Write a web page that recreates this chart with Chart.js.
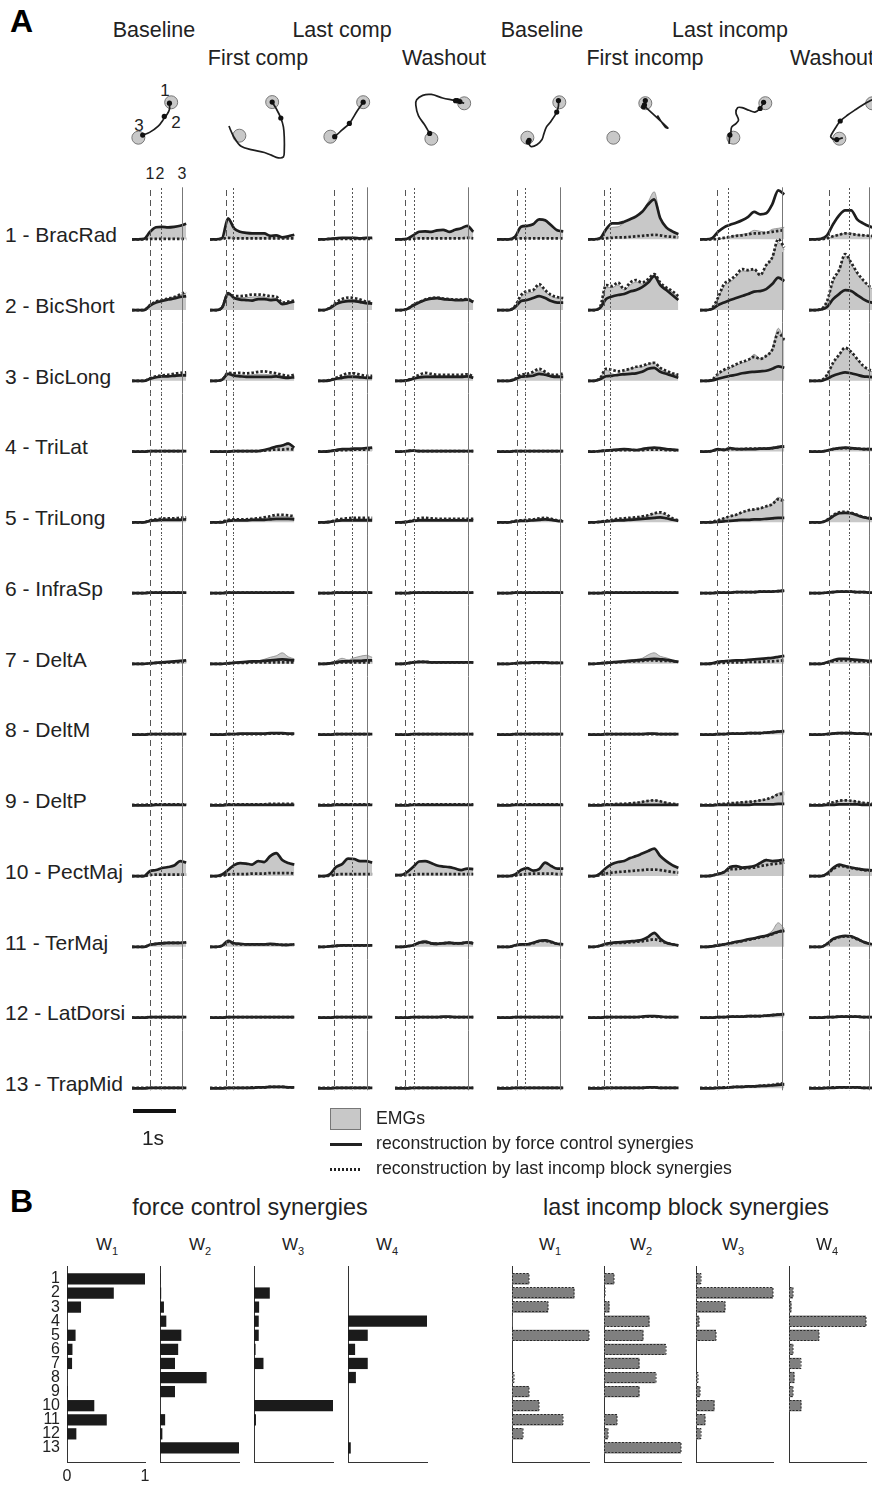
<!DOCTYPE html>
<html>
<head>
<meta charset="utf-8">
<script src="https://cdn.jsdelivr.net/npm/chart.js@4.4.1/dist/chart.umd.min.js"></script>
<style>
  html, body { margin: 0; padding: 0; background: #fff; }
  body { width: 872px; height: 1485px; overflow: hidden; position: relative;
         font-family: "Liberation Sans", Arial, Helvetica, sans-serif; color: #222; }
  canvas { position: absolute; }
  .t { position: absolute; white-space: nowrap; line-height: 1; }
  .box { position: absolute; }
</style>
</head>
<body>
<script>
// ---------------------------------------------------------------------------
// Data
// ---------------------------------------------------------------------------
const conditionNames = ['Baseline', 'First comp', 'Last comp', 'Washout',
                        'Baseline', 'First incomp', 'Last incomp', 'Washout'];
const muscleNames = ['1 - BracRad', '2 - BicShort', '3 - BicLong', '4 - TriLat', '5 - TriLong',
                     '6 - InfraSp', '7 - DeltA', '8 - DeltM', '9 - DeltP', '10 - PectMaj',
                     '11 - TerMaj', '12 - LatDorsi', '13 - TrapMid'];
const muscleIds = [1, 2, 3, 4, 5, 6, 7, 8, 9, 10, 11, 12, 13];

// event times (s): movement onset, mid-reach, target reached (null = not reached)
const eventTimes = [[0.42, 0.67, 1.16], [0.37, 0.53, null], [0.37, 0.79, 1.14], [0.23, 0.44, 1.70],
                    [0.47, 0.65, 1.47], [0.37, 0.51, null], [0.40, 0.65, 1.91], [0.47, 0.93, 1.40]];

// sample times (s) of each condition
const timeBaseline1   = [0, .14, .28, .42, .56, .70, .84, .98, 1.12, 1.26];
const timeFirstComp   = [0, .14, .28, .42, .56, .70, .84, .98, 1.12, 1.26, 1.40, 1.54, 1.68, 1.82, 1.96];
const timeLastComp    = [0, .14, .28, .42, .56, .70, .84, .98, 1.12, 1.26];
const timeWashout1    = [0, .14, .28, .42, .56, .70, .84, .98, 1.12, 1.26, 1.40, 1.54, 1.68, 1.82];
const timeBaseline2   = [0, .14, .28, .42, .56, .70, .84, .98, 1.12, 1.26, 1.40, 1.54];
const timeFirstIncomp = [0, .14, .28, .42, .56, .70, .84, .98, 1.12, 1.26, 1.40, 1.54, 1.68, 1.82, 1.96, 2.10];
const timeLastIncomp  = [0, .14, .28, .42, .56, .70, .84, .98, 1.12, 1.26, 1.40, 1.54, 1.68, 1.82, 1.96];
const timeWashout2    = [0, .14, .28, .42, .56, .70, .84, .98, 1.12, 1.26, 1.40, 1.54];

// EMG amplitudes (% of max), one row per muscle
const emgBaseline1 = [
  [0,0,1,14,23,24,23,24,26,30], [0,0,0,10,16,20,23,26,30,34], [0,0,0,5,8,10,10,12,13,14],
  [0,0,0,1,1,1,1,1,1,1], [0,0,0,3,5,6,6,7,7,8], [0,0,0,1,1,1,1,1,1,1], [0,0,0,1,2,3,4,5,6,7],
  [0,0,0,1,1,1,1,1,1,1], [1,1,1,1,1,1,1,1,1,1], [0,0,0,10,12,16,18,21,30,27],
  [0,0,0,4,6,7,8,8,8,9], [0,0,0,1,1,1,1,1,1,1], [0,0,0,1,1,1,1,1,1,1]];
const forceBaseline1 = [
  [0,0,1,15,24,25,24,25,27,31], [0,0,0,9,15,18,21,23,26,28], [0,0,0,4,7,9,9,10,11,11],
  [0,0,0,1,1,1,1,1,1,1], [0,0,0,3,4,5,5,5,5,6], [0,0,0,1,1,1,1,1,1,1], [0,0,0,1,2,3,4,5,6,7],
  [0,0,0,1,1,1,1,1,1,1], [0,0,0,0,1,1,1,1,1,1], [0,0,0,10,12,16,18,21,30,27],
  [0,0,0,4,6,7,8,8,8,9], [0,0,0,1,1,1,1,1,1,1], [0,0,0,1,1,1,1,1,1,1]];
const incompBaseline1 = [
  [0,0,0,1,1,1,1,1,1,1], [0,0,0,10,17,20,23,26,31,36], [0,0,0,5,9,11,12,14,16,17],
  [0,0,0,1,1,1,1,1,1,1], [0,0,0,4,6,7,8,8,9,10], [0,0,0,1,1,1,1,1,1,1], [0,0,0,1,2,2,3,3,4,4],
  [0,0,0,1,1,1,1,1,1,1], [1,1,1,2,2,2,2,2,2,2], [0,0,0,2,3,3,3,3,3,3],
  [0,0,0,4,6,7,8,8,8,9], [0,0,0,1,1,1,1,1,1,1], [1,1,1,1,1,1,1,1,1,1]];

const emgFirstComp = [
  [0,0,2,40,20,14,12,11,11,11,8,7,5,6,8], [0,0,5,33,26,25,25,26,27,26,24,24,13,15,18],
  [0,0,2,15,12,12,11,12,13,13,12,12,9,8,10], [0,0,0,0,1,1,1,1,1,3,6,10,13,18,7],
  [0,0,1,4,5,5,5,6,7,8,10,12,12,11,10], [0,0,0,1,1,1,1,1,1,1,1,1,1,1,1],
  [0,0,0,1,2,3,4,5,6,9,13,16,22,14,10], [0,0,0,1,1,2,2,2,2,2,3,3,3,2,2],
  [1,1,1,2,2,2,2,2,2,2,2,2,2,2,2], [0,0,3,11,21,25,24,22,29,27,38,44,31,25,22],
  [0,0,2,12,7,6,5,5,5,5,6,5,4,4,5], [0,0,0,1,1,1,1,1,1,1,1,1,1,1,1],
  [0,0,0,1,1,1,1,1,2,2,3,3,3,2,2]];
const forceFirstComp = [
  [0,0,2,42,22,15,13,12,12,12,7,8,4,6,9], [0,0,5,34,24,21,20,19,22,22,20,21,12,14,17],
  [0,0,2,14,10,9,8,8,8,8,8,9,7,6,7], [0,0,0,0,1,1,1,1,1,3,6,10,12,16,8],
  [0,0,0,3,4,4,4,5,5,5,6,7,7,7,6], [0,0,0,1,1,1,1,1,1,1,1,1,1,1,1],
  [0,0,0,1,2,3,4,5,5,6,7,8,9,8,7], [0,0,0,1,1,2,2,2,2,2,3,3,3,2,2],
  [0,0,0,1,1,1,1,1,1,1,1,1,1,1,1], [0,0,3,12,22,26,25,23,30,28,40,46,32,26,23],
  [0,0,2,12,7,6,5,5,5,5,6,5,4,4,5], [0,0,0,1,1,1,1,1,1,1,1,1,1,1,1],
  [0,0,0,1,1,1,1,1,2,2,3,3,3,2,2]];
const incompFirstComp = [
  [0,0,1,3,2,2,2,2,2,2,2,2,2,2,2], [0,0,5,32,28,28,29,31,31,30,28,27,15,17,19],
  [0,0,2,16,15,16,15,16,18,19,17,15,12,10,12], [0,0,0,0,1,1,1,1,1,2,3,4,4,5,4],
  [0,0,1,5,6,6,6,7,8,10,12,15,15,14,12], [0,0,0,1,1,1,1,1,1,1,1,1,1,1,1],
  [0,0,0,1,2,2,2,3,3,3,3,3,3,3,3], [0,0,0,1,1,1,1,1,1,1,2,2,2,1,1],
  [1,1,1,2,2,2,2,2,2,2,3,3,3,3,3], [0,0,1,3,4,4,4,5,5,5,6,6,6,6,5],
  [0,0,2,10,6,5,5,5,5,5,5,5,4,4,5], [0,0,0,1,1,1,1,1,1,1,1,1,1,1,1],
  [1,1,1,1,1,1,1,2,2,2,3,3,3,2,2]];

const emgLastComp = [
  [0,0,1,2,2,3,2,2,2,3], [0,0,4,13,19,21,21,19,16,15], [0,0,1,5,8,11,11,9,8,8],
  [0,0,1,3,5,5,6,6,7,8], [0,0,1,4,6,6,7,7,7,7], [0,0,0,1,1,1,1,1,1,1], [0,0,1,6,11,8,12,15,17,13],
  [0,0,0,1,1,1,1,1,1,1], [1,1,1,1,1,1,1,1,1,1], [0,0,4,17,23,34,33,29,29,26],
  [0,0,1,2,3,3,3,3,3,3], [0,0,0,1,1,1,1,1,1,1], [0,0,0,1,1,1,1,1,1,1]];
const forceLastComp = [
  [0,0,1,2,3,3,3,2,3,3], [0,0,4,12,16,18,18,16,14,13], [0,0,1,4,6,8,8,7,6,6],
  [0,0,1,3,5,5,6,6,7,8], [0,0,1,3,4,4,4,4,4,4], [0,0,0,1,1,1,1,1,1,1], [0,0,1,3,5,5,6,6,7,7],
  [0,0,0,1,1,1,1,1,1,1], [0,0,0,1,1,1,1,1,1,1], [0,0,4,18,24,35,34,30,30,27],
  [0,0,1,2,3,3,3,3,3,3], [0,0,0,1,1,1,1,1,1,1], [0,0,0,1,1,1,1,1,1,1]];
const incompLastComp = [
  [0,0,1,1,1,1,1,1,1,1], [0,0,5,15,22,25,24,21,17,16], [0,0,2,6,11,15,15,12,10,10],
  [0,0,1,2,3,3,4,4,4,5], [0,0,1,5,7,8,9,9,9,9], [0,0,0,1,1,1,1,1,1,1], [0,0,1,2,3,3,3,3,3,3],
  [0,0,0,1,1,1,1,1,1,1], [1,1,1,2,2,2,2,2,2,2], [0,0,1,3,4,4,4,4,4,4],
  [0,0,1,2,3,3,3,3,3,3], [0,0,0,1,1,1,1,1,1,1], [1,1,1,1,1,1,1,1,1,1]];

const emgWashout1 = [
  [0,0,1,7,14,15,14,17,18,14,18,21,26,14], [0,0,2,9,15,20,23,24,22,21,20,20,21,16],
  [0,0,1,5,9,12,11,10,10,10,10,10,11,8], [0,0,1,2,1,1,1,1,1,1,1,1,1,1],
  [0,0,1,4,6,7,6,6,6,6,6,6,6,6], [0,0,0,1,1,1,1,1,1,1,1,1,1,1],
  [0,0,1,3,4,4,3,3,3,3,3,3,3,3], [0,0,0,1,1,1,1,1,1,1,1,1,1,1],
  [1,1,1,1,1,1,1,1,1,1,1,1,1,1], [2,2,8,18,29,30,26,21,19,18,15,12,15,14],
  [0,0,1,3,10,13,9,8,9,10,9,9,11,8], [0,0,0,1,1,1,1,1,2,2,1,1,1,1],
  [0,0,0,1,1,1,1,1,1,1,1,1,1,1]];
const forceWashout1 = [
  [0,0,1,8,15,16,15,18,19,15,19,22,27,15], [0,0,2,9,15,20,23,24,22,21,20,20,21,16],
  [0,0,1,4,7,8,8,8,8,8,8,8,9,6], [0,0,1,2,1,1,1,1,1,1,1,1,1,1],
  [0,0,1,3,4,4,4,4,4,4,4,4,4,4], [0,0,0,1,1,1,1,1,1,1,1,1,1,1],
  [0,0,1,3,4,4,3,3,3,3,3,3,3,3], [0,0,0,1,1,1,1,1,1,1,1,1,1,1],
  [0,0,0,1,1,1,1,1,1,1,1,1,1,1], [2,2,8,18,29,30,26,21,19,18,15,12,15,14],
  [0,0,1,3,8,10,7,6,7,8,7,7,9,7], [0,0,0,1,1,1,1,1,2,2,1,1,1,1],
  [0,0,0,1,1,1,1,1,1,1,1,1,1,1]];
const incompWashout1 = [
  [0,0,0,1,2,2,2,2,2,2,2,2,3,2], [0,0,2,10,16,21,24,25,23,22,21,21,22,17],
  [0,0,1,6,12,16,14,12,12,12,12,12,13,9], [0,0,1,2,1,1,1,1,1,1,1,1,1,1],
  [0,0,1,4,8,9,8,7,7,7,7,7,7,7], [0,0,0,1,1,1,1,1,1,1,1,1,1,1],
  [0,0,1,3,4,4,3,3,3,3,3,3,3,3], [0,0,0,1,1,1,1,1,1,1,1,1,1,1],
  [1,1,1,2,2,2,2,2,2,2,2,2,2,2], [2,2,2,3,4,4,4,4,4,4,4,4,4,4],
  [0,0,1,3,8,10,7,6,7,8,7,7,9,7], [0,0,0,1,1,1,1,1,1,1,1,1,1,1],
  [1,1,1,1,1,1,1,1,1,1,1,1,1,1]];

const emgBaseline2 = [
  [0,0,0,4,24,24,30,38,36,26,17,15], [0,0,0,7,26,34,36,48,36,28,24,24],
  [0,0,0,4,11,12,15,20,16,11,10,12], [0,0,0,1,1,1,1,1,1,1,1,1],
  [0,0,0,3,4,4,5,7,8,6,4,3], [0,0,0,1,1,1,1,1,1,1,1,1], [0,0,0,1,2,2,3,3,3,2,2,2],
  [0,0,0,1,1,1,1,1,1,1,1,1], [1,1,1,1,1,1,1,1,1,1,1,1], [0,0,0,3,12,16,11,14,27,20,15,15],
  [0,0,0,3,5,5,8,12,13,10,6,5], [0,0,0,1,1,1,1,1,1,1,1,1], [0,0,0,1,1,1,1,1,1,1,1,1]];
const forceBaseline2 = [
  [0,0,0,5,25,27,30,40,38,28,18,16], [0,0,0,6,18,20,24,28,24,18,15,15],
  [0,0,0,3,8,9,10,14,12,9,8,8], [0,0,0,1,1,1,1,1,1,1,1,1],
  [0,0,0,2,3,3,4,5,6,5,3,2], [0,0,0,1,1,1,1,1,1,1,1,1], [0,0,0,1,2,2,3,3,3,2,2,2],
  [0,0,0,1,1,1,1,1,1,1,1,1], [0,0,0,1,1,1,1,1,1,1,1,1], [0,0,0,3,12,16,11,14,27,20,15,15],
  [0,0,0,3,5,5,8,12,13,10,6,5], [0,0,0,1,1,1,1,1,1,1,1,1], [0,0,0,1,1,1,1,1,1,1,1,1]];
const incompBaseline2 = [
  [0,0,0,1,2,2,2,2,2,2,2,2], [0,0,0,8,30,38,40,52,40,30,26,24],
  [0,0,0,4,12,14,18,24,18,12,12,15], [0,0,0,1,1,1,1,1,1,1,1,1],
  [0,0,0,3,4,5,6,8,9,7,4,3], [0,0,0,1,1,1,1,1,1,1,1,1], [0,0,0,1,2,2,2,2,2,2,2,2],
  [0,0,0,1,1,1,1,1,1,1,1,1], [1,1,1,2,2,2,2,2,2,2,2,2], [0,0,0,1,3,4,5,5,5,5,4,4],
  [0,0,0,3,5,5,7,11,12,9,6,5], [0,0,0,1,1,1,1,1,1,1,1,1], [1,1,1,1,1,1,1,1,1,1,1,1]];

const emgFirstIncomp = [
  [0,0,2,18,24,25,33,40,46,55,75,95,44,24,16,10], [0,0,5,45,45,50,40,50,56,52,60,70,52,44,36,26],
  [0,0,6,22,14,12,18,24,27,28,33,36,24,18,14,11], [0,0,1,2,3,4,5,4,3,5,7,8,7,5,4,3],
  [0,0,1,3,4,6,7,8,9,11,13,17,18,14,7,4], [0,0,0,1,1,1,1,1,1,1,1,1,1,1,1,1],
  [0,0,1,2,4,5,6,8,9,11,18,22,15,12,8,5], [0,0,0,1,1,1,1,1,1,1,2,2,1,1,1,1],
  [1,1,1,2,2,3,3,4,5,7,9,10,8,5,3,2], [0,0,5,16,24,28,30,36,40,45,50,55,40,30,22,16],
  [0,0,2,6,8,9,10,11,12,14,18,26,15,8,5,3], [0,0,0,1,1,1,1,1,1,2,3,3,2,1,1,1],
  [0,0,0,1,1,1,1,1,1,1,2,2,1,1,1,1]];
const forceFirstIncomp = [
  [0,0,2,20,32,32,35,40,46,55,70,80,42,24,16,10], [0,0,4,22,27,30,32,37,40,46,55,68,50,40,30,20],
  [0,0,3,9,10,12,13,14,15,18,24,26,18,14,10,6], [0,0,1,2,3,4,5,4,3,5,7,8,7,5,4,3],
  [0,0,1,2,3,4,4,5,6,7,8,9,10,8,5,3], [0,0,0,1,1,1,1,1,1,1,1,1,1,1,1,1],
  [0,0,1,2,3,4,5,6,7,8,9,10,9,8,6,4], [0,0,0,1,1,1,1,1,1,1,2,2,1,1,1,1],
  [0,0,0,1,1,1,1,1,1,1,1,1,1,1,1,1], [0,0,5,16,24,28,30,36,40,45,50,55,40,30,22,16],
  [0,0,2,6,8,9,10,11,12,14,20,28,16,8,5,3], [0,0,0,1,1,1,1,1,1,2,3,3,2,1,1,1],
  [0,0,0,1,1,1,1,1,1,1,2,2,1,1,1,1]];
const incompFirstIncomp = [
  [0,0,1,2,3,4,4,5,6,7,8,9,8,6,5,4], [0,0,6,50,48,55,42,55,60,55,62,72,55,45,38,28],
  [0,0,5,24,22,19,21,24,28,30,34,36,26,20,15,12], [0,0,1,2,2,3,3,3,3,3,4,4,4,3,3,2],
  [0,0,1,3,5,7,8,9,10,12,14,18,20,16,8,4], [0,0,0,1,1,1,1,1,1,1,1,1,1,1,1,1],
  [0,0,1,2,3,3,4,5,5,6,7,7,6,6,5,4], [0,0,0,1,1,1,1,1,1,1,1,1,1,1,1,1],
  [1,1,1,2,2,3,3,4,5,7,9,10,8,5,3,2], [0,0,2,5,7,8,9,10,11,12,13,13,12,10,8,7],
  [0,0,2,5,7,8,8,9,10,11,13,15,12,8,5,3], [0,0,0,1,1,1,1,1,1,1,2,2,1,1,1,1],
  [1,1,1,1,1,1,1,1,1,1,2,2,1,1,1,1]];

const emgLastIncomp = [
  [0,0,0,1,2,5,8,10,12,18,16,14,20,22,24], [0,0,4,24,48,56,66,78,78,80,70,88,105,135,120],
  [0,0,2,13,20,26,31,36,40,53,44,50,64,105,80], [0,0,1,5,3,7,5,5,5,5,6,7,8,11,12],
  [0,0,1,4,8,12,15,19,23,25,28,31,36,50,44], [0,0,0,1,1,1,2,2,2,2,3,3,3,4,5],
  [0,0,1,4,5,6,7,7,8,9,10,11,12,14,16], [0,0,0,1,1,2,2,2,3,3,3,4,5,6,7],
  [1,1,1,2,3,4,5,6,7,8,10,12,16,24,27], [0,0,1,4,8,16,18,16,17,20,28,34,28,30,30],
  [0,0,1,3,5,7,10,12,15,17,20,24,32,48,36], [0,0,0,1,1,2,2,2,3,3,3,4,5,6,7],
  [0,0,0,1,1,2,3,3,4,4,5,6,7,9,10]];
const forceLastIncomp = [
  [0,0,2,15,24,29,33,38,45,55,50,52,70,98,90], [0,0,2,10,15,20,24,28,32,37,38,42,52,65,58],
  [0,0,1,4,7,10,12,15,17,18,19,20,24,29,26], [0,0,1,5,3,7,5,5,5,5,6,6,7,9,10],
  [0,0,0,1,2,3,4,5,5,6,6,7,8,9,9], [0,0,0,1,1,1,2,2,2,2,3,3,3,4,5],
  [0,0,1,4,5,6,7,7,8,9,10,11,12,14,16], [0,0,0,1,1,2,2,2,3,3,3,4,5,6,7],
  [0,0,0,1,1,1,1,1,1,2,2,2,2,3,3], [0,0,1,4,8,18,20,17,18,20,26,32,30,31,33],
  [0,0,1,3,5,7,10,12,15,17,20,22,26,30,32], [0,0,0,1,1,2,2,2,3,3,3,4,5,6,7],
  [0,0,0,1,1,2,3,3,4,4,5,5,6,7,8]];
const incompLastIncomp = [
  [0,0,0,1,3,5,7,8,10,12,12,13,15,17,18], [0,0,4,25,52,60,70,82,80,82,70,90,105,142,125],
  [0,0,2,14,22,27,33,38,42,48,44,50,62,96,82], [0,0,1,4,4,5,5,5,6,6,6,6,7,9,11],
  [0,0,1,4,8,12,15,20,24,26,28,32,36,46,42], [0,0,0,1,1,1,2,2,2,2,3,3,3,4,5],
  [0,0,0,2,2,3,3,3,4,4,4,5,5,6,7], [0,0,0,1,1,2,2,2,3,3,3,4,5,6,7],
  [1,1,1,2,3,4,5,6,7,8,10,12,16,22,23], [0,0,1,4,8,14,14,15,16,17,20,22,24,25,27],
  [0,0,1,3,5,7,9,11,14,16,19,21,25,30,33], [0,0,0,1,1,2,2,2,3,3,3,4,5,6,7],
  [1,1,1,1,2,2,3,3,4,4,5,6,7,9,10]];

const emgWashout2 = [
  [0,0,0,2,6,9,12,12,9,8,7,6], [0,0,2,16,56,78,108,92,72,58,46,40],
  [0,0,1,11,34,50,64,56,42,28,20,17], [0,0,0,2,5,7,8,7,6,5,5,4],
  [0,0,0,4,12,18,19,18,14,10,8,7], [0,0,0,1,2,3,3,3,2,2,1,1], [0,0,0,3,7,10,10,9,8,7,6,6],
  [0,0,0,1,2,3,3,3,2,2,1,1], [1,1,1,2,5,8,10,9,7,5,4,3], [0,0,0,5,16,23,20,17,15,13,12,11],
  [0,0,0,6,16,20,22,21,16,10,6,4], [0,0,0,1,1,2,2,2,2,1,1,1], [0,0,0,1,1,2,2,2,2,1,1,1]];
const forceWashout2 = [
  [0,0,1,8,30,48,58,58,40,32,26,22], [0,0,1,6,22,32,40,38,30,22,16,14],
  [0,0,0,4,10,14,17,15,12,9,8,7], [0,0,0,2,5,7,8,7,6,5,5,4],
  [0,0,0,4,12,18,19,18,14,10,8,7], [0,0,0,1,2,3,3,3,2,2,1,1], [0,0,0,3,7,10,10,9,8,7,6,6],
  [0,0,0,1,2,3,3,3,2,2,1,1], [0,0,0,1,1,2,2,2,2,1,1,1], [0,0,0,5,16,23,20,17,15,13,12,11],
  [0,0,0,6,16,20,22,21,16,10,6,4], [0,0,0,1,1,2,2,2,2,1,1,1], [0,0,0,1,1,2,2,2,2,1,1,1]];
const incompWashout2 = [
  [0,0,0,2,6,9,12,11,9,8,7,6], [0,0,2,18,60,80,112,95,75,60,48,42],
  [0,0,1,12,36,52,66,58,44,30,22,18], [0,0,0,2,5,6,7,6,6,5,5,4],
  [0,0,0,5,14,20,21,19,15,11,9,8], [0,0,0,1,2,3,3,3,2,2,1,1], [0,0,0,2,5,7,7,6,5,5,4,4],
  [0,0,0,1,2,3,3,3,2,2,1,1], [1,1,1,3,6,9,10,9,7,5,4,3], [0,0,0,4,14,20,19,16,14,12,11,10],
  [0,0,0,6,15,19,21,20,15,10,6,4], [0,0,0,1,1,2,2,2,2,1,1,1], [1,1,1,1,2,2,2,2,2,1,1,1]];

// hand paths (mm, relative to the start target; y points up)
const pathBaseline1   = [[36,39],[36,32],[33,26],[30,22],[23,13],[13,6],[5,3]];
const pathFirstComp   = [[38,38],[43,30],[48,20],[51,10],[52,-2],[52,-17],[51,-24],[45,-25],[37,-22],
                         [29,-19],[15,-16],[2,-12],[-6,-2],[-10,6],[-12,11]];
const pathLastComp    = [[38,39],[31,29],[22,15],[14,8],[5,0],[3,-1]];
const pathWashout1    = [[38,40],[28,43],[13,46],[0,50],[-10,49],[-17,44],[-18,38],[-15,26],[-8,16],[-2,6]];
const pathBaseline2   = [[36,42],[36,36],[34,29],[27,18],[22,12],[19,4],[17,-2],[11,-8],[4,-10],[1,-5]];
const pathFirstIncomp = [[37,42],[36,36],[38,34],[63,11],[60,12],[51,25]];
const pathLastIncomp  = [[35,40],[31,33],[25,29],[18,31],[10,34],[5,34],[3,28],[6,20],[3,16],[-2,12],
                         [-3,5],[-4,3],[-5,-7]];
const pathWashout2    = [[42,46],[34,42],[27,38],[19,33],[10,27],[1,20],[-4,13],[-9,5],[-10,2],[-5,-1],[4,1]];
// event markers along each path
const markBaseline1   = [[36,39],[30,24],[5,3]];
const markFirstComp   = [[38,38],[48,20]];
const markLastComp    = [[38,39],[22,15],[5,0]];
const markWashout1    = [[33,42],[30,43],[28,43],[-2,6]];
const markBaseline2   = [[36,42],[34,29],[1,-5],[2,-3]];
const markFirstIncomp = [[37,42],[36,37],[35,35]];
const markLastIncomp  = [[35,40],[31,33],[-4,3]];
const markWashout2    = [[1,20],[-3,-1]];
// end target position relative to the start target (mm)
const targetOffsets = [[38,40],[38,38],[38,39],[38,40],[37,40],[37,39],[37,39],[38,40]];

// synergy weights
const forceW1  = [1.00,0.60,0.18,0,0.11,0.07,0.065,0,0.01,0.35,0.51,0.12,0];
const forceW2  = [0.005,0.015,0.05,0.08,0.27,0.23,0.19,0.59,0.19,0,0.065,0.03,1.00];
const forceW3  = [0,0.20,0.065,0.06,0.06,0.02,0.12,0,0,1.00,0.025,0,0];
const forceW4  = [0,0,0,1.00,0.25,0.09,0.25,0.10,0,0,0,0,0.035];
const incompW1 = [0.22,0.81,0.47,0.005,1.00,0,0,0.02,0.22,0.35,0.66,0.14,0];
const incompW2 = [0.13,0.01,0.07,0.59,0.51,0.80,0.46,0.67,0.46,0,0.17,0.05,1.00];
const incompW3 = [0.06,1.00,0.38,0.04,0.26,0,0,0.02,0.05,0.24,0.12,0.06,0];
const incompW4 = [0,0.05,0.03,1.00,0.39,0.05,0.15,0.07,0.05,0.16,0,0,0];

// ---------------------------------------------------------------------------
// Layout
// ---------------------------------------------------------------------------
const FONT = '"Liberation Sans", Arial, Helvetica, sans-serif';
const PX_PER_S = 43;          // 1 s scale bar
const UNITS_PER_PX = 2;       // EMG % per pixel
const ROW0_BASE = 239.3;      // baseline of first muscle row
const ROW_STEP = 70.75;
const columnLeft = [132, 210, 318, 395, 497, 588, 700, 809];
const titleX = [154, 258, 342, 444, 542, 645, 730, 832];
const trajOrigin = [[137,140],[238,138],[329,139],[430,141],[526,140],[612,140],[732,140],[838,141]];

const conditions = [
  { time: timeBaseline1,   emg: emgBaseline1,   force: forceBaseline1,   incomp: incompBaseline1,   path: pathBaseline1,   marks: markBaseline1 },
  { time: timeFirstComp,   emg: emgFirstComp,   force: forceFirstComp,   incomp: incompFirstComp,   path: pathFirstComp,   marks: markFirstComp },
  { time: timeLastComp,    emg: emgLastComp,    force: forceLastComp,    incomp: incompLastComp,    path: pathLastComp,    marks: markLastComp },
  { time: timeWashout1,    emg: emgWashout1,    force: forceWashout1,    incomp: incompWashout1,    path: pathWashout1,    marks: markWashout1 },
  { time: timeBaseline2,   emg: emgBaseline2,   force: forceBaseline2,   incomp: incompBaseline2,   path: pathBaseline2,   marks: markBaseline2 },
  { time: timeFirstIncomp, emg: emgFirstIncomp, force: forceFirstIncomp, incomp: incompFirstIncomp, path: pathFirstIncomp, marks: markFirstIncomp },
  { time: timeLastIncomp,  emg: emgLastIncomp,  force: forceLastIncomp,  incomp: incompLastIncomp,  path: pathLastIncomp,  marks: markLastIncomp },
  { time: timeWashout2,    emg: emgWashout2,    force: forceWashout2,    incomp: incompWashout2,    path: pathWashout2,    marks: markWashout2 }
];

// ---------------------------------------------------------------------------
// Helpers
// ---------------------------------------------------------------------------
function makeCanvas(left, top, w, h) {
  const c = document.createElement('canvas');
  c.width = w; c.height = h;
  c.style.left = left + 'px'; c.style.top = top + 'px';
  c.style.width = w + 'px'; c.style.height = h + 'px';
  document.body.appendChild(c);
  return c;
}
function addText(str, x, y, size, align, extra) {
  const d = document.createElement('div');
  d.className = 't';
  d.textContent = str;
  d.style.fontSize = size + 'px';
  d.style.left = x + 'px';
  d.style.top = y + 'px';
  const tx = align === 'left' ? '0' : align === 'right' ? '-100%' : '-50%';
  d.style.transform = 'translate(' + tx + ',-50%)';
  if (extra) Object.assign(d.style, extra);
  document.body.appendChild(d);
  return d;
}
function addBox(left, top, w, h, style) {
  const d = document.createElement('div');
  d.className = 'box';
  Object.assign(d.style, { left: left + 'px', top: top + 'px', width: w + 'px', height: h + 'px' }, style);
  document.body.appendChild(d);
}
const baseOptions = {
  responsive: false, animation: false, events: [], devicePixelRatio: 1,
  layout: { padding: 0 },
};

// vertical event markers (onset dashed, mid dotted, end solid)
const eventStyles = [
  { dash: [6, 4], color: '#555' },
  { dash: [2, 2], color: '#555' },
  { dash: [],     color: '#777' }
];
const eventLinePlugin = {
  id: 'eventLines',
  afterDatasetsDraw(chart, args, opts) {
    const { ctx, scales: { x, y } } = chart;
    const y0 = y.getPixelForValue(opts.from);
    const y1 = y.getPixelForValue(opts.to);
    opts.times.forEach((t, i) => {
      if (t == null) return;
      const px = Math.round(x.getPixelForValue(t)) + 0.5;
      const st = eventStyles[i];
      ctx.save();
      ctx.strokeStyle = st.color;
      ctx.lineWidth = 1;
      ctx.setLineDash(st.dash);
      ctx.lineDashOffset = (opts.pageTop + y0) % 10;
      ctx.beginPath();
      ctx.moveTo(px, y0);
      ctx.lineTo(px, y1);
      ctx.stroke();
      ctx.restore();
    });
  }
};

// dashed outline around bars
const dashedOutlinePlugin = {
  id: 'dashedOutline',
  afterDatasetsDraw(chart, args, opts) {
    if (!opts.enabled) return;
    const ctx = chart.ctx;
    chart.getDatasetMeta(0).data.forEach(bar => {
      const { x, y, base, height } = bar.getProps(['x', 'y', 'base', 'height'], true);
      if (Math.abs(x - base) < 0.5) return;
      ctx.save();
      ctx.setLineDash([2, 1.5]);
      ctx.strokeStyle = '#2a2a2a';
      ctx.lineWidth = 1;
      ctx.strokeRect(Math.round(base) + 0.5, Math.round(y - height / 2) + 0.5,
                     Math.round(x - base) - 0.5, Math.round(height) - 1);
      ctx.restore();
    });
  }
};

// ---------------------------------------------------------------------------
// Panel A: EMG traces
// ---------------------------------------------------------------------------
function drawCell(col, row) {
  const cond = conditions[col];
  const span = cond.time[cond.time.length - 1];
  const pad = 4;
  const w = Math.round(span * PX_PER_S) + 2 * pad;
  const baseY = ROW0_BASE + row * ROW_STEP;
  const top = Math.round(baseY - 86);
  const h = 100;
  const basePx = baseY - top;
  const canvas = makeCanvas(columnLeft[col] - pad, top, w, h);
  new Chart(canvas, {
    type: 'line',
    data: {
      labels: cond.time,
      datasets: [
        { data: cond.emg[row], fill: 'origin', backgroundColor: '#c8c8c8', borderColor: '#8a8a8a',
          borderWidth: 0.8, order: 3 },
        { data: cond.force[row], fill: false, borderColor: '#1e1e1e', borderWidth: 2.7, order: 2 },
        { data: cond.incomp[row], fill: false, borderColor: '#262626', borderWidth: 2.7,
          borderDash: [2.5, 2], order: 1 }
      ]
    },
    options: Object.assign({}, baseOptions, {
      elements: { point: { radius: 0 }, line: { cubicInterpolationMode: 'monotone', borderCapStyle: 'butt' } },
      scales: {
        x: { type: 'linear', display: false, min: -pad / PX_PER_S, max: (w - pad) / PX_PER_S },
        y: { type: 'linear', display: false, min: -(h - basePx) * UNITS_PER_PX, max: basePx * UNITS_PER_PX }
      },
      plugins: {
        legend: { display: false }, tooltip: { enabled: false },
        eventLines: {
          times: eventTimes[col],
          from: row === 0 ? 104 : 58 * UNITS_PER_PX,
          to: row === muscleNames.length - 1 ? -4 : -12.75 * UNITS_PER_PX,
          pageTop: top
        }
      }
    }),
    plugins: [eventLinePlugin]
  });
}

// ---------------------------------------------------------------------------
// Panel A: hand paths
// ---------------------------------------------------------------------------
const toXY = arr => arr.map(p => ({ x: p[0], y: p[1] }));
function drawTrajectory(col) {
  const cond = conditions[col];
  const [ox, oy] = trajOrigin[col];
  const canvas = makeCanvas(ox - 45, oy - 85, 110, 130);
  const tgt = targetOffsets[col];
  new Chart(canvas, {
    type: 'scatter',
    data: {
      datasets: [
        { data: toXY([[0, 0], tgt]), pointRadius: 6.5, pointBackgroundColor: '#c8c8c8',
          pointBorderColor: '#777', pointBorderWidth: 1, showLine: false, order: 3 },
        { data: toXY(cond.path), showLine: true, borderColor: '#1e1e1e', borderWidth: 1.7,
          pointRadius: 0, tension: 0.35, order: 2 },
        { data: toXY(cond.marks), pointRadius: 2.6, pointBackgroundColor: '#111',
          pointBorderWidth: 0, showLine: false, order: 1 }
      ]
    },
    options: Object.assign({}, baseOptions, {
      scales: {
        x: { type: 'linear', display: false, min: -45, max: 65 },
        y: { type: 'linear', display: false, min: -45, max: 85 }
      },
      plugins: { legend: { display: false }, tooltip: { enabled: false } }
    })
  });
}

// ---------------------------------------------------------------------------
// Panel B: synergy weights
// ---------------------------------------------------------------------------
function drawSynergy(values, axisX, plotW, dashed, showTicks) {
  const yAxisW = 30, xAxisH = 24, padTop = 4, padRight = 8;
  const canvas = makeCanvas(axisX - yAxisW, 1262, yAxisW + plotW + padRight, padTop + 196 + xAxisH);
  new Chart(canvas, {
    type: 'bar',
    data: {
      labels: muscleIds,
      datasets: [{ data: values, backgroundColor: dashed ? '#7f7f7f' : '#1b1b1b', borderWidth: 0,
                   barPercentage: 0.8, categoryPercentage: 1 }]
    },
    options: Object.assign({}, baseOptions, {
      indexAxis: 'y',
      layout: { padding: { top: padTop, right: padRight, left: 0, bottom: 0 } },
      scales: {
        x: { type: 'linear', min: 0, max: 1, offset: false,
             grid: { display: false, drawTicks: false },
             border: { color: '#333', width: 1 },
             ticks: { display: showTicks, stepSize: 1, color: '#222', padding: 5, maxRotation: 0,
                      font: { family: FONT, size: 16 } },
             afterFit: s => { s.height = xAxisH; s.paddingLeft = 0; s.paddingRight = 0; } },
        y: { type: 'linear', reverse: true, min: 0.08, max: 14, offset: false,
             grid: { display: false, drawTicks: false, offset: false },
             border: { color: '#333', width: 1 },
             ticks: { display: showTicks, autoSkip: false, color: '#222', padding: 7,
                      font: { family: FONT, size: 16 } },
             afterBuildTicks: a => { a.ticks = muscleIds.map(v => ({ value: v })); },
             afterFit: s => { s.width = yAxisW; s.paddingTop = 0; s.paddingBottom = 0; } }
      },
      plugins: { legend: { display: false }, tooltip: { enabled: false },
                 dashedOutline: { enabled: dashed } }
    }),
    plugins: [dashedOutlinePlugin]
  });
}

// ---------------------------------------------------------------------------
// Build
// ---------------------------------------------------------------------------
Chart.defaults.font.family = FONT;

// panel A
addText('A', 10, 21, 32, 'left', { fontWeight: 'bold', color: '#000' });
conditionNames.forEach((name, i) => addText(name, titleX[i], i % 2 === 0 ? 31 : 59, 21.5, 'center'));
addText('1', 150, 174, 16, 'center');
addText('2', 160, 174, 16, 'center');
addText('3', 182, 174, 16, 'center');
addText('1', 165, 90, 17, 'center');
addText('2', 176, 122, 17, 'center');
addText('3', 139, 125, 17, 'center');
muscleNames.forEach((m, r) => addText(m, 5, 234 + r * ROW_STEP, 21, 'left'));

for (let c = 0; c < conditions.length; c++) {
  drawTrajectory(c);
  for (let r = 0; r < muscleNames.length; r++) drawCell(c, r);
}

// time scale bar and legend
addBox(133, 1109, 43, 4, { background: '#111' });
addText('1s', 153, 1137, 21, 'center');
addBox(330, 1108, 31, 22, { background: '#c8c8c8', border: '1px solid #777', boxSizing: 'border-box' });
addBox(330, 1143, 32, 3, { background: '#222' });
addBox(330, 1168, 32, 3, { background: 'repeating-linear-gradient(90deg,#222 0 2px,transparent 2px 4px)' });
addText('EMGs', 376, 1119, 17.7, 'left');
addText('reconstruction by force control synergies', 376, 1144, 17.7, 'left');
addText('reconstruction by last incomp block synergies', 376, 1169, 17.7, 'left');

// panel B
addText('B', 10, 1201, 32, 'left', { fontWeight: 'bold', color: '#000' });
addText('force control synergies', 250, 1208, 23.4, 'center');
addText('last incomp block synergies', 686, 1208, 23.4, 'center');
const wLabelX = [107, 200, 293, 387, 550, 641, 733, 827];
wLabelX.forEach((x, i) => {
  const d = addText('', x, 1244, 17, 'center');
  d.innerHTML = 'W<span style="font-size:11px;position:relative;top:5px">' + (i % 4 + 1) + '</span>';
});

drawSynergy(forceW1, 67, 78, false, true);
drawSynergy(forceW2, 160, 79, false, false);
drawSynergy(forceW3, 254, 79, false, false);
drawSynergy(forceW4, 348, 79, false, false);
drawSynergy(incompW1, 512, 77, true, false);
drawSynergy(incompW2, 604, 77, true, false);
drawSynergy(incompW3, 696, 77, true, false);
drawSynergy(incompW4, 789, 77, true, false);
</script>
</body>
</html>
